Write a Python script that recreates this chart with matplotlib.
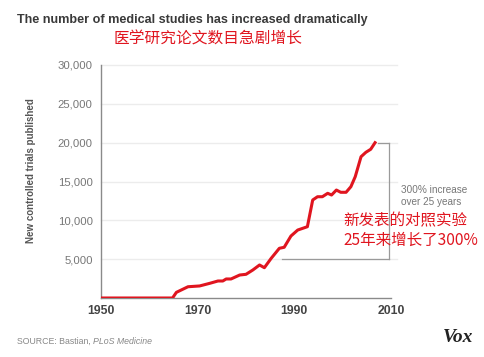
import matplotlib
matplotlib.use("Agg")
import matplotlib.pyplot as plt

plt.rcParams['font.family'] = ['Liberation Sans', 'DejaVu Sans']

years = [1950, 1964.8, 1965.6, 1968.0, 1970.4, 1972.5, 1974.2, 1975.2, 1975.9, 1976.9,
         1978.7, 1980.0, 1981.4, 1982.8, 1983.8, 1985.2, 1986.9, 1987.9, 1989.3, 1990.7,
         1992.7, 1993.8, 1994.8, 1995.8, 1996.9, 1997.7, 1998.7, 1999.6, 2000.7, 2001.7,
         2002.6, 2003.8, 2004.8, 2005.8, 2006.7]
trials = [0, 0, 730, 1450, 1550, 1890, 2190, 2190, 2450, 2450,
          2960, 3050, 3600, 4250, 3900, 5100, 6400, 6530, 7980, 8750,
          9180, 12620, 13040, 13040, 13480, 13260, 13900, 13610, 13610, 14330,
          15620, 18190, 18760, 19150, 20000]
y_ticks = [5000, 10000, 15000, 20000, 25000, 30000]
y_tick_labels = ["5,000", "10,000", "15,000", "20,000", "25,000", "30,000"]
x_ticks = [1950, 1970, 1990, 2010]
x_tick_labels = ["1950", "1970", "1990", "2010"]
bracket_low, bracket_high = 5000, 20000
bracket_start, bracket_x = 1987.5, 2009.5

W, H = 485, 357
fig = plt.figure(figsize=(W / 100, H / 100), dpi=100)
fig.patch.set_facecolor('white')
ax = fig.add_axes([101 / W, 1 - 298 / H, 290 / W, 233 / H])
ax.set_xlim(1950, 2010)
ax.set_ylim(0, 30000)

for yt in y_ticks:
    ax.plot([1950, 2011.3], [yt, yt], color='#ececec', lw=1.0, zorder=1, clip_on=False)

ax.plot(years, trials, color='#e0151f', lw=2.2, zorder=3, solid_joinstyle='round')

# bracket
bc = '#9a9a9a'
ax.plot([bracket_start, bracket_x], [bracket_low, bracket_low], color=bc, lw=0.9, clip_on=False, zorder=2)
ax.plot([years[-1] + 0.6, bracket_x], [bracket_high, bracket_high], color=bc, lw=0.9, clip_on=False, zorder=2)
ax.plot([bracket_x, bracket_x], [bracket_low, bracket_high], color=bc, lw=0.9, clip_on=False, zorder=2)

for s in ['top', 'right']:
    ax.spines[s].set_visible(False)
ax.spines['left'].set_color('#8a8a8a')
ax.spines['bottom'].set_color('#8a8a8a')
ax.spines['left'].set_linewidth(1.0)
ax.spines['bottom'].set_linewidth(1.0)
ax.spines['bottom'].set_bounds(1950, 2010)

ax.set_yticks(y_ticks)
ax.set_yticklabels(y_tick_labels, color='#777777', fontsize=8.2)
ax.set_xticks(x_ticks)
ax.set_xticklabels(x_tick_labels, color='#444444', fontsize=8.8, fontweight='bold')
ax.tick_params(axis='both', length=0)
ax.tick_params(axis='y', pad=6)
ax.tick_params(axis='x', pad=5)

ax.set_ylabel('New controlled trials published', color='#555555', fontsize=7.0,
              fontweight='bold')
ax.yaxis.set_label_coords(-0.224, 0.545)

fig.text(17 / W, 1 - 20 / H, 'The number of medical studies has increased dramatically',
         fontsize=9.1, fontweight='bold', color='#3a3a3a', va='center', ha='left')
fig.text(208 / W, 1 - 39 / H, '医学研究论文数目急剧增长', fontsize=11.3, color='#e0151f',
         va='center', ha='center', family=['Noto Sans CJK SC', 'DejaVu Sans'])

fig.text(401 / W, 1 - 196 / H, '300% increase\nover 25 years', fontsize=7.2, color='#777777',
         va='center', ha='left', linespacing=1.3)
fig.text(343 / W, 1 - 231 / H, '新发表的对照实验\n25年来增长了300%', fontsize=11.2, color='#e0151f',
         va='center', ha='left', linespacing=1.2, family=['Noto Sans CJK SC', 'DejaVu Sans'])

t1 = fig.text(17 / W, 1 - 341 / H, 'SOURCE: Bastian, ', fontsize=6.3, color='#888888',
              va='center', ha='left')
fig.canvas.draw()
bb = t1.get_window_extent()
fig.text(bb.x1 / W, 1 - 341 / H, 'PLoS Medicine', fontsize=6.3, color='#888888',
         va='center', ha='left', style='italic')

fig.text(458 / W, 1 - 338 / H, 'Vox', fontsize=14, color='#222222', va='center', ha='center',
         family='Liberation Serif', fontweight='bold', style='italic')

fig.savefig('out.png', dpi=100, facecolor='white')
